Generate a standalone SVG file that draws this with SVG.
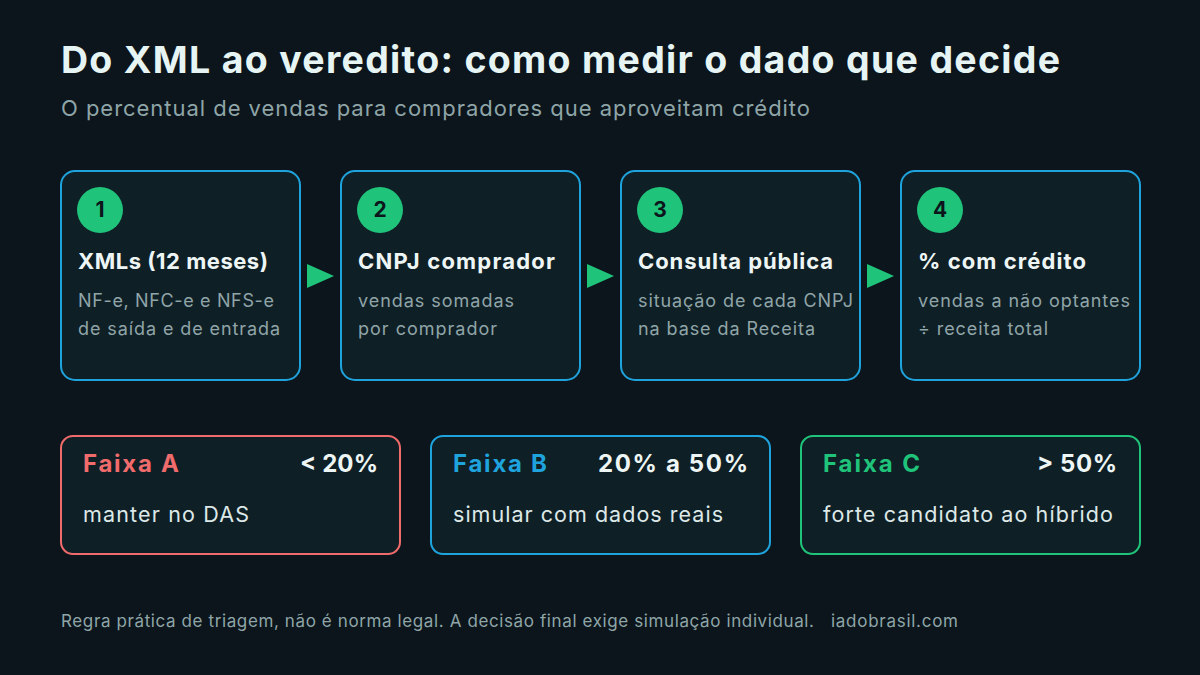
<svg xmlns="http://www.w3.org/2000/svg" width="1200" height="675" viewBox="0 0 1200 675">
<style>
text{font-family:Inter,"Noto Sans","Liberation Sans",sans-serif}
.title{font-size:37.5px;font-weight:700;fill:#e6f4f3}
.sub{font-size:22px;fill:#8fa5a8}
.step{fill:#0f1f26;stroke:#1fa3dc;stroke-width:2}
.num-c{fill:#1fc47a}
.num{font-size:21px;font-weight:700;fill:#0b151b;text-anchor:middle}
.st{font-size:22px;font-weight:700;fill:#eef6f5}
.sd{font-size:18px;fill:#8fa5a8}
.arrow{fill:#1fc47a}
.band{fill:#0f1f26;stroke-width:2}
.bt{font-size:24px;font-weight:700}
.bp{font-size:24px;font-weight:700;fill:#eef6f5;text-anchor:end}
.bd{font-size:21.5px;fill:#dde9e8}
.foot{font-size:17px;fill:#8fa5a8}
</style>
<rect width="1200" height="675" fill="#0b151b"/>
<text class="title" x="61" y="73" textLength="999">Do XML ao veredito: como medir o dado que decide</text>
<text class="sub" x="61" y="116" textLength="749">O percentual de vendas para compradores que aproveitam crédito</text>

<g id="step1">
<rect class="step" x="61" y="171" width="239" height="209" rx="14"/>
<circle class="num-c" cx="100" cy="210" r="23"/>
<text class="num" x="100" y="217">1</text>
<text class="st" x="78" y="269" textLength="190">XMLs (12 meses)</text>
<text class="sd" x="78" y="307" textLength="196">NF-e, NFC-e e NFS-e</text>
<text class="sd" x="78" y="335" textLength="202">de saída e de entrada</text>
</g>
<g id="step2">
<rect class="step" x="341" y="171" width="239" height="209" rx="14"/>
<circle class="num-c" cx="380" cy="210" r="23"/>
<text class="num" x="380" y="217">2</text>
<text class="st" x="358" y="269" textLength="197">CNPJ comprador</text>
<text class="sd" x="358" y="307" textLength="156">vendas somadas</text>
<text class="sd" x="358" y="335" textLength="139">por comprador</text>
</g>
<g id="step3">
<rect class="step" x="621" y="171" width="239" height="209" rx="14"/>
<circle class="num-c" cx="660" cy="210" r="23"/>
<text class="num" x="660" y="217">3</text>
<text class="st" x="638" y="269" textLength="195">Consulta pública</text>
<text class="sd" x="638" y="307" textLength="215">situação de cada CNPJ</text>
<text class="sd" x="638" y="335" textLength="177">na base da Receita</text>
</g>
<g id="step4">
<rect class="step" x="901" y="171" width="239" height="209" rx="14"/>
<circle class="num-c" cx="940" cy="210" r="23"/>
<text class="num" x="940" y="217">4</text>
<text class="st" x="918" y="269" textLength="168">% com crédito</text>
<text class="sd" x="918" y="307" textLength="212">vendas a não optantes</text>
<text class="sd" x="918" y="335" textLength="130">÷ receita total</text>
</g>

<g id="connectors">
<polygon class="arrow" points="307,264 334,276 307,288"/>
<polygon class="arrow" points="587,264 614,276 587,288"/>
<polygon class="arrow" points="867,264 894,276 867,288"/>
</g>

<g id="faixaA">
<rect class="band" x="61" y="436" width="339" height="118" rx="12" stroke="#f06b6b"/>
<text class="bt" x="83" y="472" fill="#f06b6b" textLength="96">Faixa A</text>
<text class="bp" x="378" y="472" textLength="78">&lt; 20%</text>
<text class="bd" x="83" y="522" textLength="166">manter no DAS</text>
</g>
<g id="faixaB">
<rect class="band" x="431" y="436" width="339" height="118" rx="12" stroke="#1fa3dc"/>
<text class="bt" x="453" y="472" fill="#1fa3dc" textLength="94">Faixa B</text>
<text class="bp" x="748" y="472" textLength="150">20% a 50%</text>
<text class="bd" x="453" y="522" textLength="270">simular com dados reais</text>
</g>
<g id="faixaC">
<rect class="band" x="801" y="436" width="339" height="118" rx="12" stroke="#1fc47a"/>
<text class="bt" x="823" y="472" fill="#1fc47a" textLength="97">Faixa C</text>
<text class="bp" x="1117" y="472" textLength="80">&gt; 50%</text>
<text class="bd" x="823" y="522" textLength="290">forte candidato ao híbrido</text>
</g>

<text class="foot" x="61" y="627" textLength="753">Regra prática de triagem, não é norma legal. A decisão final exige simulação individual.</text>
<text class="foot" x="831" y="627" textLength="127">iadobrasil.com</text>
</svg>
